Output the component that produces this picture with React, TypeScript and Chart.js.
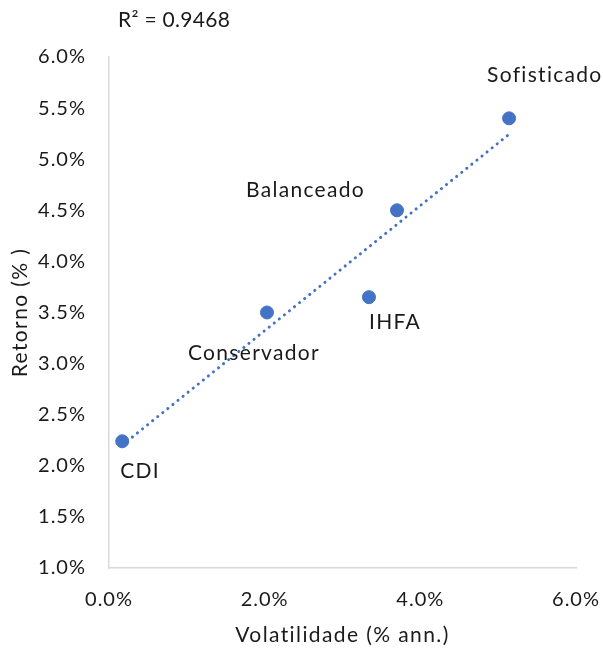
import React, { useEffect, useRef } from "react";
import { Chart, registerables } from "chart.js";

Chart.register(...registerables);

const categories = ["CDI", "Conservador", "IHFA", "Balanceado", "Sofisticado"];
const volatility = [0.17, 2.03, 3.34, 3.7, 5.14];
const returns = [2.24, 3.5, 3.65, 4.5, 5.4];
const rSquaredText = "R² = 0.9468";
const xTitle = "Volatilidade (% ann.)";
const yTitle = "Retorno (% )";
const xTicks = [0, 2, 4, 6];
const yTicks = [1, 1.5, 2, 2.5, 3, 3.5, 4, 4.5, 5, 5.5, 6];

// label offsets (styling): left edge and vertical centre relative to each point
const labelOffsets = [
  [-2, 30],
  [-79, 41],
  [0, 25],
  [-151, -20],
  [-22, -43],
];

const FONT = "Lato, 'Open Sans', sans-serif";
const TEXT = "#1a1a1a";
const BLUE = "#4472C4";

function regression(xs: number[], ys: number[]) {
  const n = xs.length;
  const mx = xs.reduce((a, b) => a + b, 0) / n;
  const my = ys.reduce((a, b) => a + b, 0) / n;
  let sxy = 0;
  let sxx = 0;
  for (let i = 0; i < n; i++) {
    sxy += (xs[i] - mx) * (ys[i] - my);
    sxx += (xs[i] - mx) * (xs[i] - mx);
  }
  const slope = sxy / sxx;
  return { slope, intercept: my - slope * mx };
}

export default function App() {
  const ref = useRef<HTMLCanvasElement | null>(null);

  useEffect(() => {
    if (!ref.current) return;
    const { slope, intercept } = regression(volatility, returns);
    const xMin = Math.min(...volatility);
    const xMax = Math.max(...volatility);
    const trend = [
      { x: xMin, y: intercept + slope * xMin },
      { x: xMax, y: intercept + slope * xMax },
    ];

    const labelPlugin = {
      id: "pointLabels",
      beforeDraw(chart: any) {
        (chart.ctx as any).letterSpacing = "1px";
      },
      afterDatasetsDraw(chart: any) {
        const ctx = chart.ctx;
        const area = chart.chartArea;
        const meta = chart.getDatasetMeta(1);
        ctx.save();
        ctx.fillStyle = TEXT;
        ctx.textBaseline = "middle";
        ctx.font = `21px ${FONT}`;
        (ctx as any).letterSpacing = "1.3px";
        ctx.textAlign = "left";
        meta.data.forEach((pt: any, i: number) => {
          const [dx, dy] = labelOffsets[i];
          ctx.fillText(categories[i], pt.x + dx, pt.y + dy);
        });
        // axis titles
        (ctx as any).letterSpacing = "1.4px";
        ctx.textAlign = "center";
        ctx.fillText(xTitle, (area.left + area.right) / 2, 635);
        ctx.save();
        ctx.translate(20, (area.top + area.bottom) / 2);
        ctx.rotate(-Math.PI / 2);
        ctx.fillText(yTitle, 0, 0);
        ctx.restore();
        // R² text
        (ctx as any).letterSpacing = "0.3px";
        ctx.textAlign = "left";
        ctx.fillText(rSquaredText, area.left + 9, 20);
        ctx.restore();
      },
    };

    const chart = new Chart(ref.current, {
      type: "scatter",
      data: {
        datasets: [
          {
            type: "line",
            data: trend,
            borderColor: BLUE,
            borderWidth: 3,
            borderDash: [0.1, 6.4],
            borderCapStyle: "round",
            pointRadius: 0,
            fill: false,
          } as any,
          {
            data: volatility.map((v, i) => ({ x: v, y: returns[i] })),
            backgroundColor: BLUE,
            borderColor: BLUE,
            pointRadius: 6.5,
            pointHoverRadius: 6.5,
          },
        ],
      },
      options: {
        responsive: false,
        devicePixelRatio: 1,
        animation: false,
        layout: { padding: { top: 57, right: 27, left: 0, bottom: 0 } },
        plugins: { legend: { display: false }, tooltip: { enabled: false } },
        scales: {
          x: {
            type: "linear",
            min: 0,
            max: 6,
            afterBuildTicks: (s: any) => {
              s.ticks = xTicks.map((v) => ({ value: v }));
            },
            afterFit: (s: any) => {
              s.height = 83;
              s.paddingLeft = 0;
              s.paddingRight = 0;
            },
            grid: { display: true, drawOnChartArea: false, drawTicks: false },
            border: { display: true, color: "#d9d9d9", width: 1.5 },
            ticks: {
              padding: 20,
              color: TEXT,
              font: { family: FONT, size: 20 },
              callback: (v: any) => `${Number(v).toFixed(1)}%`,
            },
            title: { display: false },
          },
          y: {
            type: "linear",
            min: 1,
            max: 6,
            afterBuildTicks: (s: any) => {
              s.ticks = yTicks.map((v) => ({ value: v }));
            },
            afterFit: (s: any) => {
              s.width = 109;
              s.paddingTop = 0;
              s.paddingBottom = 0;
            },
            grid: { display: true, drawOnChartArea: false, drawTicks: false },
            border: { display: true, color: "#d9d9d9", width: 1.5 },
            ticks: {
              padding: 23,
              color: TEXT,
              font: { family: FONT, size: 20 },
              callback: (v: any) => `${Number(v).toFixed(1)}%`,
            },
            title: { display: false },
          },
        },
      },
      plugins: [labelPlugin],
    } as any);
    return () => chart.destroy();
  }, []);

  return (
    <div style={{ position: "absolute", left: 0, top: 0, width: 603, height: 651, background: "#fff" }}>
      <canvas ref={ref} width={603} height={651} style={{ width: 603, height: 651 }} />
    </div>
  );
}
